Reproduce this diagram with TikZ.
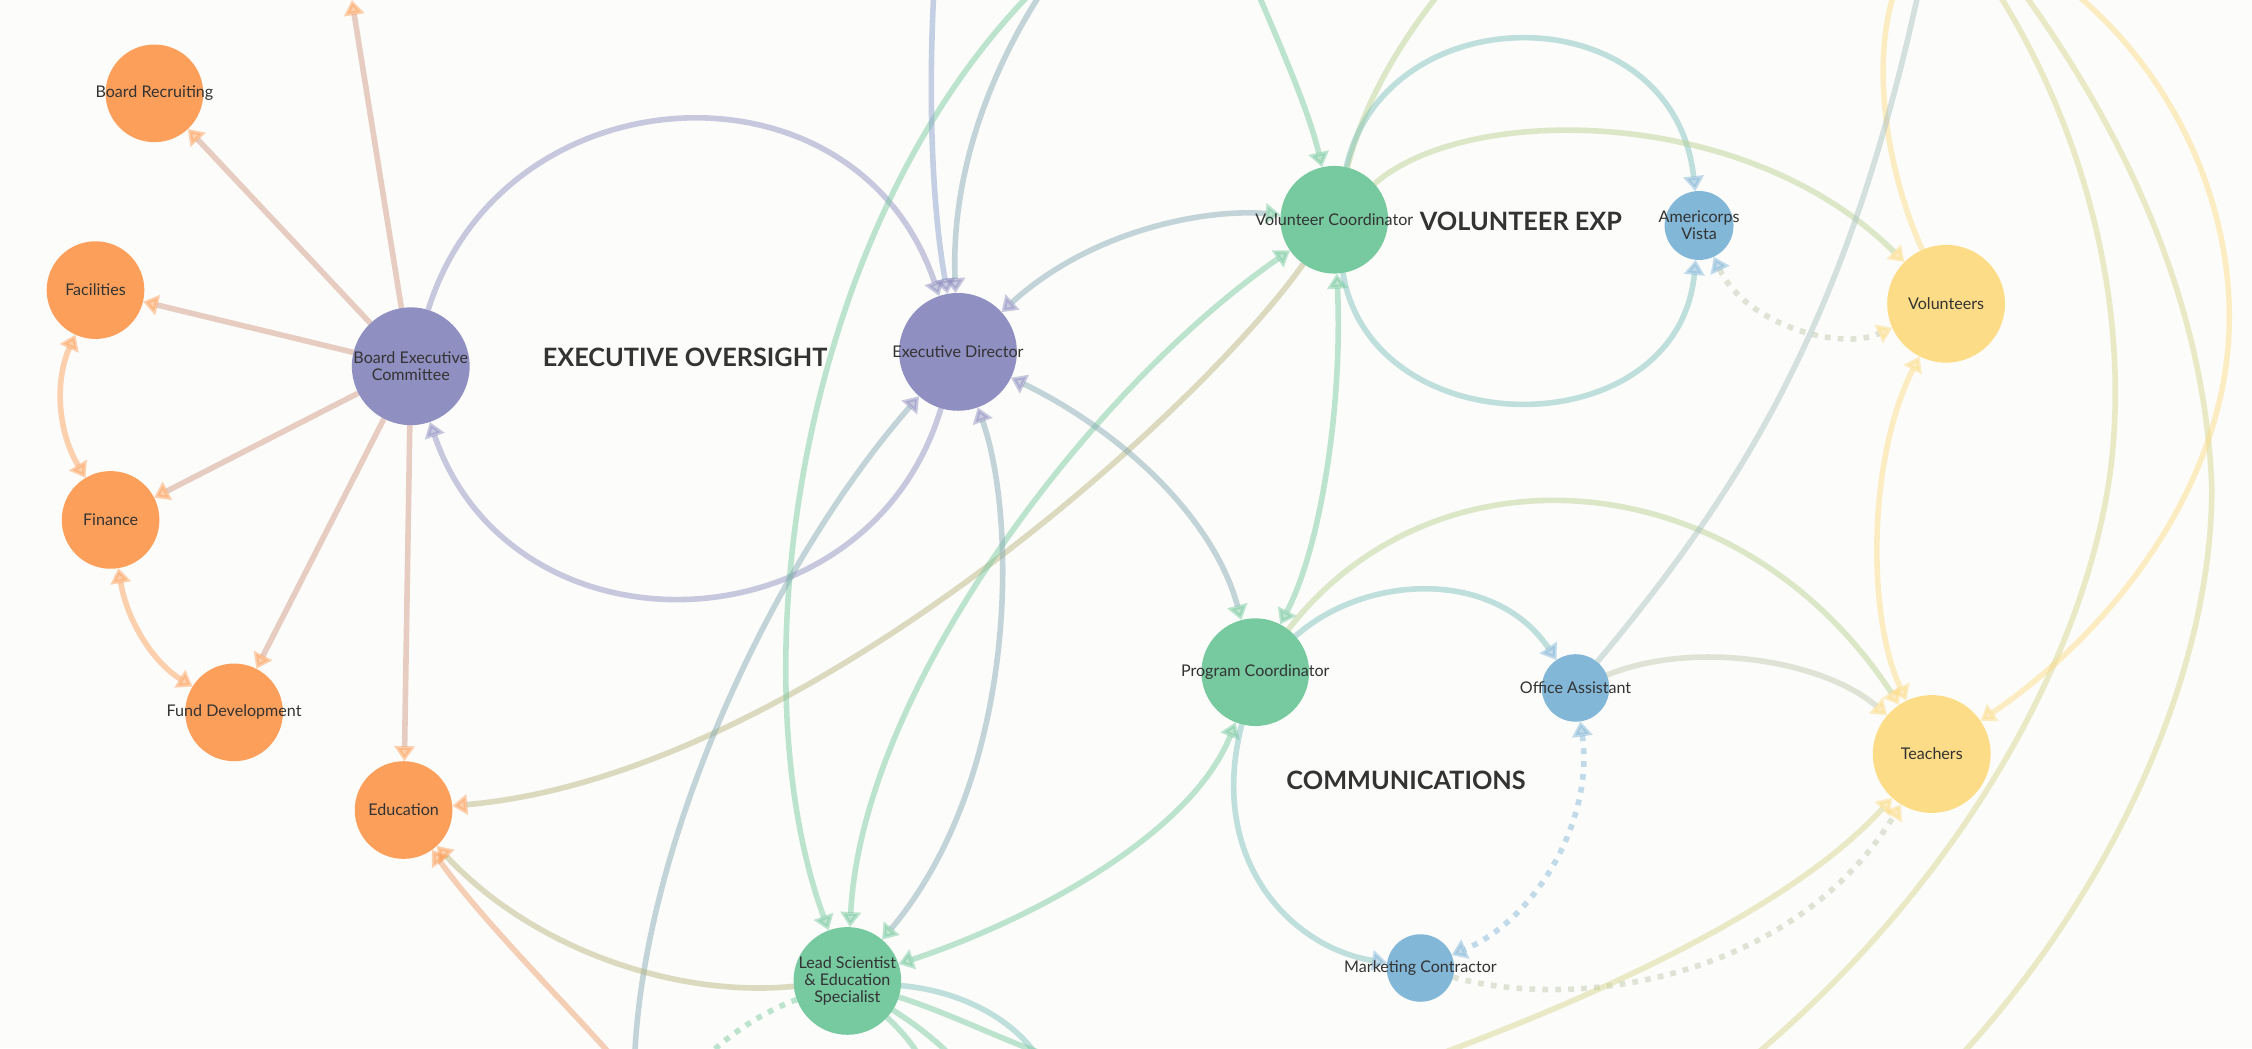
\documentclass[tikz,border=0pt]{standalone}
\usepackage{fontspec}
\setmainfont{Lato}
\usetikzlibrary{arrows.meta}
\pgfdeclarelayer{edges}
\pgfsetlayers{edges,main}
\definecolor{orangeN}{HTML}{FC9F5B}
\definecolor{purpleN}{HTML}{8F8FC1}
\definecolor{greenN}{HTML}{77C9A0}
\definecolor{blueN}{HTML}{82B7D8}
\definecolor{yellowN}{HTML}{FDDC87}
\definecolor{bgc}{HTML}{FCFCFA}
\definecolor{txt}{HTML}{333333}
\colorlet{cPO}{purpleN!40!orangeN}
\colorlet{cGO}{greenN!50!orangeN}
\colorlet{cGP}{greenN!45!purpleN}
\colorlet{cBP}{blueN!40!purpleN}
\colorlet{cGB}{greenN!50!blueN}
\colorlet{cGY}{greenN!50!yellowN}
\colorlet{cBY}{blueN!50!yellowN}
\colorlet{cBY2}{blueN!70!yellowN}
\colorlet{cYG}{yellowN!70!greenN}
\colorlet{cOx}{orangeN!85!purpleN}
\tikzset{
  nd/.style={circle, minimum size=#1, inner sep=0pt, outer sep=0pt, draw=none},
  lb/.style={font=\fontsize{11.2}{12}\selectfont, text=txt, align=center, inner sep=0pt},
  hd/.style={font=\fontsize{17.6}{20}\selectfont\bfseries, text=txt, inner sep=0pt},
  ed/.style={line width=3.9pt, opacity=0.48},
  ato/.style={arrows={-Triangle[length=10.5pt,width=14pt,color=#1]}},
  abo/.style 2 args={arrows={Triangle[length=10.5pt,width=14pt,color=#1]-Triangle[length=10.5pt,width=14pt,color=#2]}},
  dotl/.style={dash pattern=on 4pt off 5pt}
}
\begin{document}
\begin{tikzpicture}[x=1pt,y=-1pt]
\useasboundingbox (0,0) rectangle (1568,730);
% nodes
\node[nd=68pt, fill=orangeN] (br) at (107.5,65) {};
\node[nd=68pt, fill=orangeN] (fac) at (66.5,202) {};
\node[nd=68pt, fill=orangeN] (fin) at (77,362) {};
\node[nd=68pt, fill=orangeN] (fd) at (163,496) {};
\node[nd=68pt, fill=orangeN] (edu) at (281,564) {};
\node[nd=82pt, fill=purpleN] (bec) at (286,255) {};
\node[nd=82pt, fill=purpleN] (ed) at (667,245) {};
\node[nd=75pt, fill=greenN] (vc) at (929,153) {};
\node[nd=48pt, fill=blueN] (av) at (1183,157) {};
\node[nd=82pt, fill=yellowN] (vol) at (1355,211.5) {};
\node[nd=82pt, fill=yellowN] (tea) at (1345,525) {};
\node[nd=75pt, fill=greenN] (pc) at (874,468) {};
\node[nd=47pt, fill=blueN] (oa) at (1097,479) {};
\node[nd=47pt, fill=blueN] (mc) at (989,674) {};
\node[nd=75pt, fill=greenN] (ls) at (590,683) {};
% labels
\node[lb] (br-t) at (br) {Board Recruiting};
\node[lb] (fac-t) at (fac) {Facilities};
\node[lb] (fin-t) at (fin) {Finance};
\node[lb] (fd-t) at (fd) {Fund Development};
\node[lb] (edu-t) at (edu) {Education};
\node[lb] (bec-t) at (bec) {Board Executive\\Committee};
\node[lb] (ed-t) at (ed) {Executive Director};
\node[lb] (vc-t) at (vc) {Volunteer Coordinator};
\node[lb] (av-t) at (av) {Americorps\\Vista};
\node[lb] (vol-t) at (vol) {Volunteers};
\node[lb] (tea-t) at (tea) {Teachers};
\node[lb] (pc-t) at (pc) {Program Coordinator};
\node[lb] (oa-t) at (oa) {Office Assistant};
\node[lb] (mc-t) at (mc) {Marketing Contractor};
\node[lb] (ls-t) at (ls) {Lead Scientist\\\& Education\\Specialist};
\node[hd] (h1) at (477,249) {EXECUTIVE OVERSIGHT};
\node[hd] (h2) at (1059,154) {VOLUNTEER EXP};
\node[hd] (h3) at (979,543) {COMMUNICATIONS};
% free ends
\coordinate (topA) at (245,0);
\coordinate (tT2) at (650,-2);
\coordinate (tT3) at (723,-2);
\coordinate (tT4) at (715,-2);
\coordinate (tT5) at (877,-2);
\coordinate (tT6) at (1000,-2);
\coordinate (bT14) at (442,733);
\coordinate (bT33) at (1005,733);
\coordinate (tY1) at (1318,-2);
\coordinate (tY2) at (1335,-2);
\coordinate (tY3) at (1393,-2);
\coordinate (mY3) at (1472,300);
\coordinate (bY3) at (1224,733);
\coordinate (tY4) at (1411,-2);
\coordinate (mY4) at (1540,340);
\coordinate (bY4) at (1367,733);
\coordinate (tY5) at (1448,-2);
\coordinate (mY5) at (1552,230);
\coordinate (bE41) at (424,733);
\coordinate (bL1) at (722,735);
\coordinate (bL2) at (730,735);
\coordinate (bL3) at (662,735);
\coordinate (bL4) at (640,735);
\coordinate (bL5) at (490,738);
\begin{pgfonlayer}{edges}
\fill[bgc] (0,0) rectangle (1568,730);
% board
\draw[ed, color=cPO, ato=orangeN] (bec) -- (topA);
\draw[ed, color=cPO, ato=orangeN] (bec) -- (br);
\draw[ed, color=cPO, ato=orangeN] (bec) -- (fac);
\draw[ed, color=cPO, ato=orangeN] (bec) -- (fin);
\draw[ed, color=cPO, ato=orangeN] (bec) -- (fd);
\draw[ed, color=cPO, ato=orangeN] (bec) -- (edu);
\draw[ed, color=purpleN, ato=purpleN] (bec) .. controls (350,48) and (596,34) .. (ed);
\draw[ed, color=purpleN, ato=purpleN] (ed) .. controls (604,455) and (357,462) .. (bec);
\draw[ed, color=orangeN, abo={orangeN}{orangeN}] (fac) .. controls (38,265) and (40,300) .. (fin);
\draw[ed, color=orangeN, abo={orangeN}{orangeN}] (fin) .. controls (88,430) and (105,460) .. (fd);
% executive / volunteer / program
\draw[ed, color=cGO, ato=orangeN] (vc) .. controls (840,280) and (560,540) .. (edu);
\draw[ed, color=greenN, abo={greenN}{greenN}] (vc) .. controls (760,270) and (600,480) .. (ls);
\draw[ed, color=greenN, ato=greenN] (tT4) .. controls (550,170) and (515,480) .. (ls);
\draw[ed, color=cGP, ato=purpleN] (bT14) .. controls (450,580) and (540,390) .. (ed);
\draw[ed, color=cBP, ato=purpleN] (tT2) .. controls (646,80) and (650,150) .. (ed);
\draw[ed, color=cGP, ato=purpleN] (tT3) .. controls (690,50) and (662,120) .. (ed);
\draw[ed, color=greenN, ato=greenN] (tT5) .. controls (895,40) and (912,80) .. (vc);
\draw[ed, color=cGY] (vc) .. controls (950,70) and (975,30) .. (tT6);
\draw[ed, color=cGB, ato=blueN] (vc) .. controls (965,-5) and (1165,-5) .. (av);
\draw[ed, color=cGY, ato=yellowN] (vc) .. controls (1020,72) and (1215,72) .. (vol);
\draw[ed, color=cGB, ato=blueN] (vc) .. controls (955,312) and (1168,312) .. (av);
\draw[ed, color=cGP, abo={purpleN}{greenN}] (ed) .. controls (760,160) and (840,145) .. (vc);
\draw[ed, color=cGP, abo={purpleN}{greenN}] (ed) .. controls (780,300) and (845,360) .. (pc);
\draw[ed, color=greenN, abo={greenN}{greenN}] (vc) .. controls (935,280) and (920,380) .. (pc);
\draw[ed, color=cGP, abo={purpleN}{greenN}] (ed) .. controls (708,360) and (710,540) .. (ls);
\draw[ed, color=greenN, abo={greenN}{greenN}] (pc) .. controls (830,580) and (720,640) .. (ls);
\draw[ed, color=cGB, ato=blueN] (pc) .. controls (840,600) and (900,660) .. (mc);
\draw[ed, color=cGB, ato=blueN] (pc) .. controls (950,400) and (1040,395) .. (oa);
\draw[ed, color=cGY, ato=yellowN] (pc) .. controls (1000,305) and (1210,320) .. (tea);
\draw[ed, color=cBY, ato=yellowN] (oa) .. controls (1180,445) and (1270,460) .. (tea);
\draw[ed, dotl, color=blueN, abo={blueN}{blueN}] (oa) .. controls (1110,570) and (1070,640) .. (mc);
\draw[ed, dotl, color=cBY, ato=yellowN] (mc) .. controls (1100,705) and (1250,680) .. (tea);
\draw[ed, color=cYG, ato=yellowN] (bT33) .. controls (1120,690) and (1250,630) .. (tea);
\draw[ed, color=yellowN, abo={yellowN}{yellowN}] (vol) .. controls (1300,320) and (1300,430) .. (tea);
\draw[ed, dotl, color=cBY, abo={blueN}{yellowN}] (av) .. controls (1215,225) and (1280,245) .. (vol);
\draw[ed, color=yellowN] (vol) .. controls (1310,110) and (1305,40) .. (tY1);
\draw[ed, color=cBY2] (oa) .. controls (1213,340) and (1285,225) .. (tY2);
\draw[ed, color=cYG] (tY3) .. controls (1450,90) and (1478,200) .. (mY3) .. controls (1465,430) and (1380,600) .. (bY3);
\draw[ed, color=cYG] (tY4) .. controls (1470,80) and (1535,200) .. (mY4) .. controls (1540,470) and (1470,620) .. (bY4);
\draw[ed, color=yellowN, ato=yellowN] (tY5) .. controls (1520,60) and (1555,150) .. (mY5) .. controls (1548,340) and (1470,440) .. (tea);
% lead scientist and education
\draw[ed, color=cOx, ato=orangeN] (bE41) .. controls (395,700) and (335,640) .. (edu);
\draw[ed, color=cGO, ato=orangeN] (ls) .. controls (470,695) and (370,660) .. (edu);
\draw[ed, color=cGB] (ls) .. controls (670,690) and (705,710) .. (bL1);
\draw[ed, color=greenN] (ls) .. controls (660,705) and (700,725) .. (bL2);
\draw[ed, color=greenN] (ls) .. controls (640,715) and (652,725) .. (bL3);
\draw[ed, color=greenN] (ls) .. controls (628,718) and (635,727) .. (bL4);
\draw[ed, dotl, color=greenN] (ls) .. controls (530,705) and (505,722) .. (bL5);
\end{pgfonlayer}
\end{tikzpicture}
\end{document}
